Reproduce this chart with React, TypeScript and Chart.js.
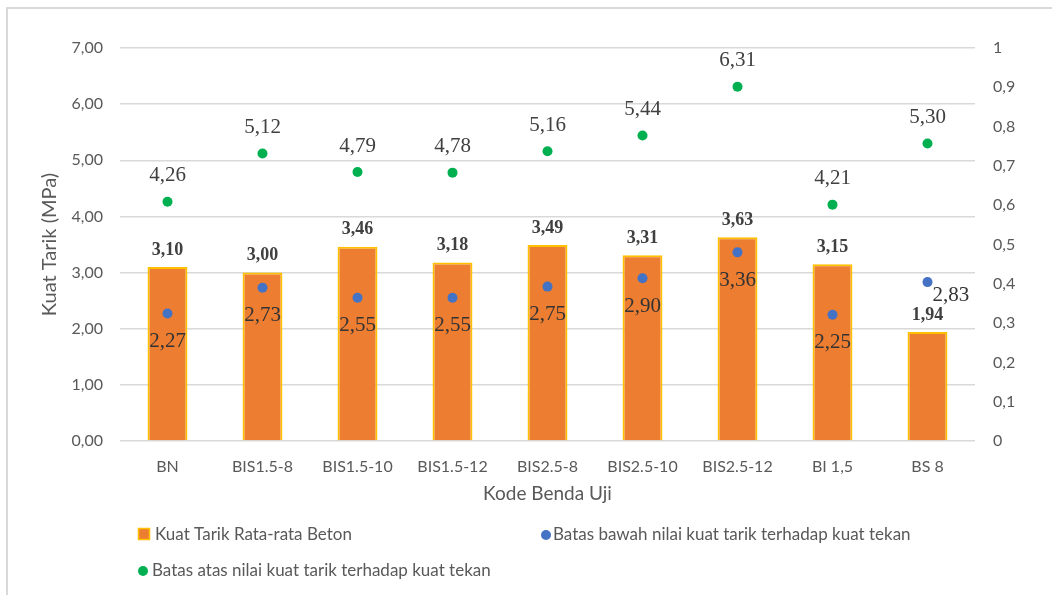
import React, { useEffect, useRef } from "react";
import { Chart, registerables } from "chart.js";

Chart.register(...registerables);

const categories = ["BN", "BIS1.5-8", "BIS1.5-10", "BIS1.5-12", "BIS2.5-8", "BIS2.5-10", "BIS2.5-12", "BI 1,5", "BS 8"];
const meanTensile = [3.10, 3.00, 3.46, 3.18, 3.49, 3.31, 3.63, 3.15, 1.94];
const lowerBound = [2.27, 2.73, 2.55, 2.55, 2.75, 2.90, 3.36, 2.25, 2.83];
const upperBound = [4.26, 5.12, 4.79, 4.78, 5.16, 5.44, 6.31, 4.21, 5.30];

const seriesNames = [
  "Kuat Tarik Rata-rata Beton",
  "Batas bawah nilai kuat tarik terhadap kuat tekan",
  "Batas atas nilai kuat tarik terhadap kuat tekan",
];

const ORANGE = "#ED7D31";
const YELLOW = "#FFC000";
const BLUE = "#4472C4";
const GREEN = "#00B050";
const TEXT = "#595959";
const SANS = "Lato, 'Open Sans', sans-serif";
const SERIF = "'Liberation Serif', 'Times New Roman', serif";

const fmt2 = (v: number) => v.toFixed(2).replace(".", ",");

const labelPlugin = {
  id: "valueLabels",
  afterDatasetsDraw(chart: any) {
    const ctx = chart.ctx;
    ctx.save();
    ctx.textAlign = "center";
    ctx.textBaseline = "middle";
    const bars = chart.getDatasetMeta(0).data;
    bars.forEach((el: any, i: number) => {
      ctx.font = `bold 18px ${SERIF}`;
      ctx.fillStyle = "#404040";
      ctx.fillText(fmt2(meanTensile[i]), el.x, el.y - 17);
    });
    const lows = chart.getDatasetMeta(1).data;
    lows.forEach((el: any, i: number) => {
      ctx.font = `21px ${SERIF}`;
      ctx.fillStyle = "#333333";
      if (i === lows.length - 1) {
        ctx.textAlign = "left";
        ctx.fillText(fmt2(lowerBound[i]), el.x + 5, el.y + 13);
        ctx.textAlign = "center";
      } else {
        ctx.fillText(fmt2(lowerBound[i]), el.x, el.y + 28);
      }
    });
    const ups = chart.getDatasetMeta(2).data;
    ups.forEach((el: any, i: number) => {
      ctx.font = `21px ${SERIF}`;
      ctx.fillStyle = "#404040";
      ctx.fillText(fmt2(upperBound[i]), el.x, el.y - 26);
    });
    ctx.restore();
  },
};

const legendPlugin = {
  id: "customLegend",
  afterDraw(chart: any) {
    const ctx = chart.ctx;
    ctx.save();
    ctx.font = `17px ${SANS}`;
    ctx.textAlign = "left";
    ctx.textBaseline = "middle";
    // item 1: bar
    ctx.fillStyle = ORANGE;
    ctx.fillRect(138.5, 528.5, 11, 11);
    ctx.strokeStyle = YELLOW;
    ctx.lineWidth = 1.5;
    ctx.strokeRect(138.5, 528.5, 11, 11);
    ctx.fillStyle = TEXT;
    ctx.fillText(seriesNames[0], 155, 535);
    // item 2: blue point
    ctx.fillStyle = BLUE;
    ctx.beginPath();
    ctx.arc(546, 535, 5, 0, Math.PI * 2);
    ctx.fill();
    ctx.fillStyle = TEXT;
    ctx.fillText(seriesNames[1], 553, 535);
    // item 3: green point
    ctx.fillStyle = GREEN;
    ctx.beginPath();
    ctx.arc(143, 571, 5, 0, Math.PI * 2);
    ctx.fill();
    ctx.fillStyle = TEXT;
    ctx.fillText(seriesNames[2], 152, 571);
    ctx.restore();
  },
};

export default function App() {
  const ref = useRef<HTMLCanvasElement | null>(null);

  useEffect(() => {
    if (!ref.current) return;
    const chart = new Chart(ref.current, {
      type: "bar",
      data: {
        labels: categories,
        datasets: [
          {
            type: "bar",
            label: seriesNames[0],
            data: meanTensile,
            backgroundColor: ORANGE,
            borderColor: YELLOW,
            borderWidth: 2,
            barPercentage: 0.42,
            categoryPercentage: 1,
            yAxisID: "y",
            order: 3,
          },
          {
            type: "line",
            label: seriesNames[1],
            data: lowerBound,
            showLine: false,
            pointRadius: 5,
            pointBackgroundColor: BLUE,
            pointBorderColor: BLUE,
            pointBorderWidth: 0,
            yAxisID: "y",
            order: 1,
          },
          {
            type: "line",
            label: seriesNames[2],
            data: upperBound,
            showLine: false,
            pointRadius: 5,
            pointBackgroundColor: GREEN,
            pointBorderColor: GREEN,
            pointBorderWidth: 0,
            yAxisID: "y",
            order: 2,
          },
        ],
      } as any,
      options: {
        responsive: false,
        animation: false,
        layout: { padding: { left: 0, right: 0, top: 48, bottom: 90 } },
        plugins: {
          legend: { display: false },
          tooltip: { enabled: false },
        },
        scales: {
          x: {
            offset: true,
            grid: { display: false, drawTicks: false },
            border: { display: false },
            ticks: { color: TEXT, font: { family: SANS, size: 16 }, padding: 16 },
            title: {
              display: true,
              text: "Kode Benda Uji",
              color: TEXT,
              font: { family: SANS, size: 19 },
              padding: { top: 0, bottom: 0 },
            },
            afterFit: (s: any) => {
              s.height = 64;
            },
          },
          y: {
            position: "left",
            min: 0,
            max: 7,
            ticks: {
              stepSize: 1,
              color: TEXT,
              font: { family: SANS, size: 16 },
              padding: 17,
              callback: (v: any) => Number(v).toFixed(2).replace(".", ","),
            },
            grid: { color: "#D9D9D9", lineWidth: 1.5, drawTicks: false },
            border: { display: false },
            title: {
              display: true,
              text: "Kuat Tarik (MPa)",
              color: TEXT,
              font: { family: SANS, size: 20 },
              padding: { top: 38, bottom: 0 },
            },
            afterFit: (s: any) => {
              s.width = 120;
            },
          },
          y1: {
            position: "right",
            min: 0,
            max: 1,
            ticks: {
              stepSize: 0.1,
              color: TEXT,
              font: { family: SANS, size: 16 },
              padding: 18,
              callback: (v: any) => String(Math.round(Number(v) * 10) / 10).replace(".", ","),
            },
            grid: { display: false, drawTicks: false },
            border: { display: false },
            afterFit: (s: any) => {
              s.width = 77;
            },
          },
        },
      } as any,
      plugins: [labelPlugin, legendPlugin],
    });
    return () => chart.destroy();
  }, []);

  return (
    <div style={{ position: "fixed", left: 0, top: 0, width: 1052, height: 595, overflow: "hidden", background: "#fff" }}>
      <div
        style={{
          position: "absolute",
          left: 6,
          top: 7,
          width: 1100,
          height: 700,
          borderLeft: "2px solid #D9D9D9",
          borderTop: "2px solid #D9D9D9",
        }}
      />
      <canvas ref={ref} width={1052} height={595} style={{ position: "absolute", left: 0, top: 0, display: "block" }} />
    </div>
  );
}
